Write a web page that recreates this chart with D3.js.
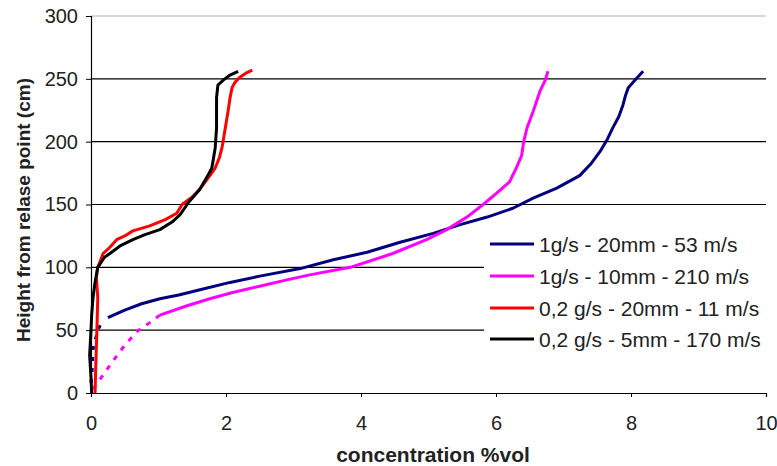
<!DOCTYPE html>
<html><head><meta charset="utf-8">
<script src="https://cdn.jsdelivr.net/npm/d3@7"></script>
<style>body{margin:0;background:#fff}svg{display:block;font-family:"Liberation Sans",Arial,sans-serif}</style>
</head><body><svg id="c" width="777" height="466"></svg>
<script>
const xTicks = [0, 2, 4, 6, 8, 10];
const yTicks = [0, 50, 100, 150, 200, 250, 300];
const seriesNames = ["1g/s - 20mm - 53 m/s", "1g/s - 10mm - 210 m/s", "0,2 g/s - 20mm - 11 m/s", "0,2 g/s - 5mm - 170 m/s"];
const seriesColors = ["#00007f", "#ff00ff", "#ff0000", "#000000"];

const blueDotted = [[0,8],[0.02,20],[0.03,35],[0.1,50],[0.16,56]];
const blue = [[0.25,60],[0.5,66],[0.75,71],[1.02,75],[1.3,78],[1.6,82],[2.06,88],[2.5,93],[3.1,99],[3.59,106],[4.09,112],[4.58,120],[5.07,127],[5.47,134],[5.87,140],[6.25,147],[6.55,155],[6.9,163],[7.24,173],[7.4,182],[7.54,192],[7.65,202],[7.73,211],[7.82,220],[7.88,229],[7.92,237],[7.96,243],[8.06,249],[8.18,256]];
const magentaDotted = [[0.03,3],[0.2,16],[0.36,28],[0.5,38],[0.68,49],[0.87,56],[1.02,62]];
const magenta = [[1.02,62],[1.4,69],[1.76,75],[2.1,80],[2.5,85],[2.9,90],[3.24,94],[3.84,100],[4.47,111],[4.97,122],[5.27,130],[5.57,140],[5.81,150],[6.01,159],[6.2,168],[6.3,179],[6.38,189],[6.41,200],[6.46,211],[6.55,224],[6.65,240],[6.73,249],[6.77,256]];
const red = [[0.06,0],[0.07,20],[0.08,37],[0.09,55],[0.1,76],[0.08,92],[0.1,100],[0.13,104],[0.18,111],[0.28,116],[0.38,122],[0.5,125],[0.62,129],[0.87,133],[1.1,138],[1.27,143],[1.35,150],[1.5,156],[1.61,162],[1.72,170],[1.84,179],[1.9,187],[1.94,195],[1.99,211],[2.03,224],[2.06,235],[2.09,243],[2.13,247],[2.2,251],[2.31,255],[2.39,257]];
const black = [[0.01,0],[0,12],[-0.02,30],[0,50],[0.01,62],[0.03,76],[0.06,88],[0.1,100],[0.2,108],[0.28,111],[0.43,117],[0.62,122],[0.8,126],[1.02,130],[1.2,136],[1.32,142],[1.45,152],[1.61,162],[1.72,172],[1.79,179],[1.84,195],[1.86,211],[1.86,224],[1.86,235],[1.88,245],[1.96,249],[2.06,253],[2.18,256]];

const svg = d3.select("#c");
const m = {l: 91, r: 11, t: 16, b: 73};
const W = 777, H = 466;
const x = d3.scaleLinear().domain([0, 10]).range([m.l, W - m.r]);
const y = d3.scaleLinear().domain([0, 300]).range([H - m.b, m.t]);
const FONT = "Liberation Sans, Arial, sans-serif";

// gridlines
svg.append("g").selectAll("line").data(yTicks.filter(d => d > 0)).join("line")
  .attr("x1", x(0)).attr("x2", x(10)).attr("y1", d => y(d)).attr("y2", d => y(d))
  .attr("stroke", d => d === 300 ? "#b0b0b0" : "#000").attr("stroke-width", 1.2);

// y axis
const ya = svg.append("g").attr("transform", `translate(${x(0)},0)`)
  .call(d3.axisLeft(y).tickValues(yTicks).tickSize(5).tickPadding(8));
ya.select(".domain").attr("stroke", "#000").attr("stroke-width", 1.2);
ya.selectAll(".tick line").attr("stroke", "#000");
ya.selectAll("text").attr("font-size", 20).attr("fill", "#222").attr("font-family", FONT);

// x axis
const xa = svg.append("g").attr("transform", `translate(0,${y(0)})`)
  .call(d3.axisBottom(x).tickValues(xTicks).tickSize(4).tickPadding(19));
xa.select(".domain").attr("stroke", "#000").attr("stroke-width", 1.2);
xa.selectAll(".tick line").attr("stroke", "#000");
xa.selectAll("text").attr("font-size", 20).attr("fill", "#222").attr("font-family", FONT);

// axis titles
svg.append("text").attr("transform", `translate(30,210) rotate(-90)`)
  .attr("text-anchor", "middle").attr("font-weight", "bold").attr("font-size", 19).attr("fill", "#222")
  .text("Height from relase point (cm)");
svg.append("text").attr("x", 433).attr("y", 462)
  .attr("text-anchor", "middle").attr("font-weight", "bold").attr("font-size", 21).attr("fill", "#222")
  .text("concentration %vol");

const line = d3.line().x(d => x(d[0])).y(d => y(d[1]));
const g = svg.append("g").attr("fill", "none").attr("stroke-width", 3).attr("stroke-linejoin", "round");
g.append("path").attr("d", line(blueDotted)).attr("stroke", seriesColors[0]).attr("stroke-dasharray", "4,7");
g.append("path").attr("d", line(magentaDotted)).attr("stroke", seriesColors[1]).attr("stroke-dasharray", "5,7");
g.append("path").attr("d", line(blue)).attr("stroke", seriesColors[0]);
g.append("path").attr("d", line(magenta)).attr("stroke", seriesColors[1]);
g.append("path").attr("d", line(red)).attr("stroke", seriesColors[2]);
g.append("path").attr("d", line(black)).attr("stroke", seriesColors[3]);

// legend
const lg = svg.append("g");
lg.append("rect").attr("x", 484).attr("y", 228).attr("width", 282).attr("height", 124).attr("fill", "#fff");
const rowsY = [244, 276, 308, 339];
seriesNames.forEach((n, i) => {
  lg.append("line").attr("x1", 490).attr("x2", 534).attr("y1", rowsY[i]).attr("y2", rowsY[i])
    .attr("stroke", seriesColors[i]).attr("stroke-width", 3);
  lg.append("text").attr("x", 539).attr("y", rowsY[i]).attr("dy", "0.36em")
    .attr("font-size", 21).attr("fill", "#222").text(n);
});
</script></body></html>
